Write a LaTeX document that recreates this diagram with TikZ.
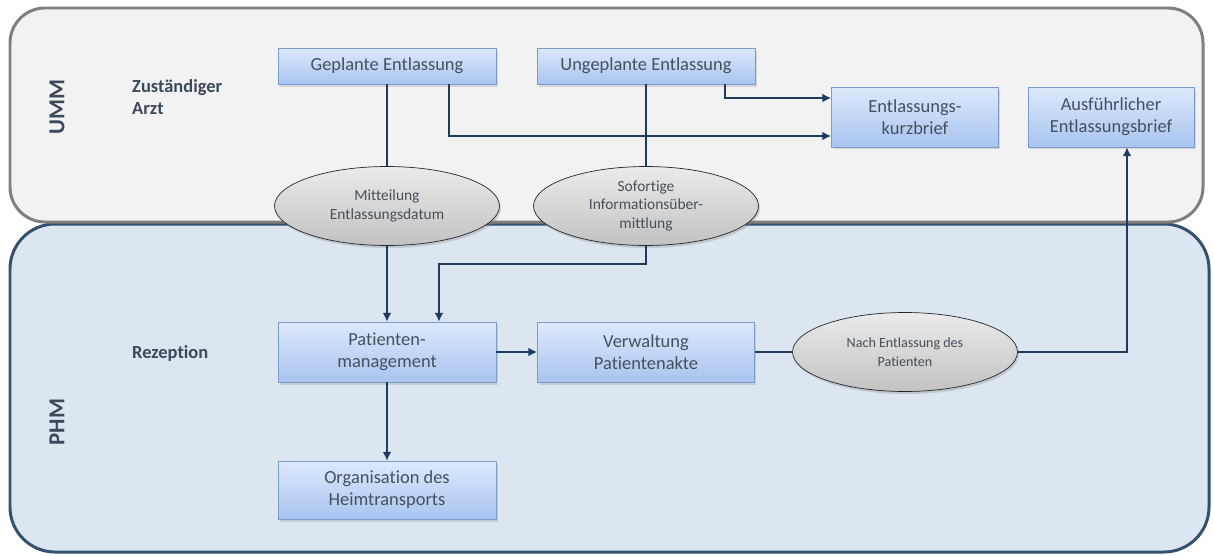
\documentclass[tikz,border=0pt]{standalone}
\usepackage{fontspec}
\setmainfont{Carlito}[Ligatures=NoCommon]
\usepackage{tikz}
\usetikzlibrary{arrows.meta,positioning,shapes.geometric,shadows}
\definecolor{ummfill}{HTML}{F2F2F2}
\definecolor{ummline}{HTML}{7F7F7F}
\definecolor{phmfill}{HTML}{DCE6F1}
\definecolor{phmline}{HTML}{34506F}
\definecolor{boxtop}{HTML}{DDE9FC}
\definecolor{boxbot}{HTML}{A8C4EF}
\definecolor{boxline}{HTML}{7B9CCB}
\definecolor{connblue}{HTML}{1F3A5F}
\definecolor{labeltext}{HTML}{3A4A5C}
\definecolor{boxtext}{HTML}{44505C}
\tikzset{%
	lane/.style     = {line width=1.7pt, rounded corners=0.7cm},
	process/.style  = {draw=boxline, rectangle, top color=boxtop, bottom color=boxbot, text=boxtext, align=center, minimum width=4.36cm, font=\fontsize{10.5}{12.5}\selectfont, drop shadow={opacity=0.25, shadow xshift=0.04cm, shadow yshift=-0.05cm}},
	message/.style  = {draw=black!85, ellipse, top color=white!92!black, bottom color=white!76!black, text=boxtext, align=center, minimum width=4.5cm, minimum height=1.58cm, inner sep=0pt, font=\fontsize{8.8}{10.8}\selectfont, drop shadow={opacity=0.3, shadow xshift=0.03cm, shadow yshift=-0.05cm}},
	role/.style     = {text=labeltext, font=\fontsize{10.5}{12.5}\selectfont\bfseries, align=left},
	org/.style      = {text=labeltext, font=\fontsize{13}{15}\selectfont\bfseries, rotate=90},
	conn/.style     = {draw=connblue, line width=1.2pt},
	arrow/.style    = {conn, -{Latex[length=5pt,width=5pt]}},
}
\begin{document}
\begin{tikzpicture}[x=0.02cm, y=-0.02cm]
	\useasboundingbox (0,0) rectangle (1213,555);
	% swimlanes
	\draw[lane, draw=phmline, fill=phmfill, rounded corners=0.9cm] (10,224) rectangle (1209,552);
	\draw[lane, draw=ummline, fill=ummfill] (10,8) rectangle (1203,222);
	\node[org] (umm) at (57,107) {UMM};
	\node[org] (phm) at (57,422) {PHM};
	\node[role, anchor=west] (arzt) at (126,97) {Zuständiger\\Arzt};
	\node[role, anchor=west] (rezep) at (126,353) {Rezeption};

	% UMM
	\node[process, minimum height=0.72cm] (geplant) at (387,66) {Geplante Entlassung};
	\node[process, minimum height=0.72cm] (ungeplant) at (646,66) {Ungeplante Entlassung};
	\node[process, minimum width=3.34cm, minimum height=1.2cm] (kurz) at (915,117) {Entlassungs-\\kurzbrief};
	\node[process, minimum width=3.32cm, minimum height=1.2cm] (ausf) at (1111,117) {Ausführlicher\\Entlassungsbrief};

	% PHM
	\node[process, minimum height=1.2cm] (patmgmt) at (387,352) {Patienten-\\management};
	\node[process, minimum height=1.16cm] (organis) at (387,490) {Organisation des\\Heimtransports};
	\node[process, minimum width=4.34cm, minimum height=1.2cm] (verwalt) at (646,352) {Verwaltung\\Patientenakte};

	% messages
	\node[message] (mitteil) at (387,206) {Mitteilung\\Entlassungsdatum};
	\node[message] (sofort) at (646,206) {Sofortige\\Informationsüber-\\mittlung};
	\node[message, font=\fontsize{8}{11}\selectfont] (nach) at (905,352) {Nach Entlassung des\\Patienten};

	% connectors
	\draw[conn] (geplant) -- (mitteil);
	\draw[arrow] ([xshift=1.24cm]geplant.south) |- ([yshift=-0.38cm]kurz.west);
	\draw[arrow] ([xshift=1.58cm]ungeplant.south) |- ([yshift=0.38cm]kurz.west);
	\draw[conn] (ungeplant) -- (sofort);
	\draw[arrow] (mitteil) -- (patmgmt);
	\draw[arrow] (sofort.south) -- ++(0,18) -| ([xshift=1.04cm]patmgmt.north);
	\draw[arrow] (patmgmt) -- (verwalt);
	\draw[arrow] (patmgmt) -- (organis);
	\draw[conn] (verwalt) -- (nach);
	\draw[arrow] (nach.east) -| ([xshift=0.32cm]ausf.south);
\end{tikzpicture}
\end{document}
